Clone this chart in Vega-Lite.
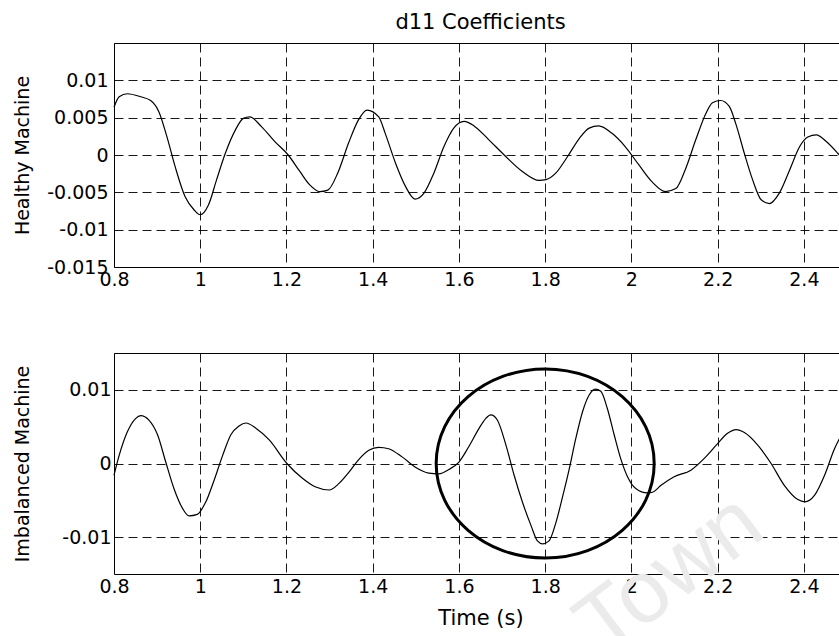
{
  "$schema": "https://vega.github.io/schema/vega-lite/v6.json",
  "padding": {"left": 12, "top": 11, "right": 0, "bottom": 0},
  "spacing": 62,
  "background": "white",
  "datasets": {
    "healthy": [
      {"t":0.8,"v":0.0064},{"t":0.812,"v":0.0078},{"t":0.831,"v":0.0082},{"t":0.862,"v":0.0078},{"t":0.885,"v":0.0073},{"t":0.904,"v":0.0058},{"t":0.923,"v":0.0024},{"t":0.942,"v":-0.0016},{"t":0.965,"v":-0.0056},{"t":0.985,"v":-0.0073},{"t":1.0,"v":-0.008},{"t":1.019,"v":-0.0067},{"t":1.038,"v":-0.0033},{"t":1.058,"v":0.0002},{"t":1.081,"v":0.0033},{"t":1.1,"v":0.0049},{"t":1.115,"v":0.0051},{"t":1.142,"v":0.0038},{"t":1.173,"v":0.0018},{"t":1.204,"v":0.0},{"t":1.231,"v":-0.0022},{"t":1.254,"v":-0.004},{"t":1.277,"v":-0.0049},{"t":1.296,"v":-0.0047},{"t":1.319,"v":-0.0024},{"t":1.344,"v":0.0016},{"t":1.367,"v":0.0047},{"t":1.387,"v":0.006},{"t":1.414,"v":0.0051},{"t":1.429,"v":0.0029},{"t":1.453,"v":-0.0011},{"t":1.476,"v":-0.0042},{"t":1.498,"v":-0.0059},{"t":1.519,"v":-0.0051},{"t":1.542,"v":-0.0024},{"t":1.565,"v":0.0011},{"t":1.588,"v":0.0036},{"t":1.612,"v":0.0045},{"t":1.635,"v":0.0039},{"t":1.67,"v":0.002},{"t":1.705,"v":0.0},{"t":1.747,"v":-0.0022},{"t":1.786,"v":-0.0034},{"t":1.802,"v":-0.0033},{"t":1.825,"v":-0.0024},{"t":1.852,"v":-0.0002},{"t":1.879,"v":0.0022},{"t":1.902,"v":0.0036},{"t":1.924,"v":0.0039},{"t":1.955,"v":0.0029},{"t":1.986,"v":0.0011},{"t":2.017,"v":-0.0013},{"t":2.048,"v":-0.0036},{"t":2.079,"v":-0.0049},{"t":2.103,"v":-0.0045},{"t":2.126,"v":-0.0018},{"t":2.149,"v":0.002},{"t":2.173,"v":0.0056},{"t":2.188,"v":0.007},{"t":2.207,"v":0.0073},{"t":2.227,"v":0.0065},{"t":2.242,"v":0.0042},{"t":2.262,"v":0.0002},{"t":2.281,"v":-0.0033},{"t":2.301,"v":-0.006},{"t":2.32,"v":-0.0065},{"t":2.343,"v":-0.0051},{"t":2.367,"v":-0.002},{"t":2.39,"v":0.0011},{"t":2.409,"v":0.0024},{"t":2.429,"v":0.0027},{"t":2.452,"v":0.0018},{"t":2.479,"v":0.0002},{"t":2.5,"v":-0.0012}
    ],
    "imbalanced": [
      {"t":0.8,"v":-0.0016},{"t":0.812,"v":0.0011},{"t":0.831,"v":0.0043},{"t":0.85,"v":0.0061},{"t":0.862,"v":0.0065},{"t":0.881,"v":0.0059},{"t":0.901,"v":0.0039},{"t":0.92,"v":0.0002},{"t":0.939,"v":-0.0034},{"t":0.959,"v":-0.0061},{"t":0.974,"v":-0.0071},{"t":0.993,"v":-0.0069},{"t":1.013,"v":-0.0052},{"t":1.032,"v":-0.0023},{"t":1.052,"v":0.0011},{"t":1.071,"v":0.0039},{"t":1.09,"v":0.0051},{"t":1.106,"v":0.0055},{"t":1.129,"v":0.0048},{"t":1.16,"v":0.0032},{"t":1.201,"v":0.0},{"t":1.237,"v":-0.002},{"t":1.268,"v":-0.0032},{"t":1.299,"v":-0.0036},{"t":1.322,"v":-0.0027},{"t":1.346,"v":-0.0011},{"t":1.367,"v":0.0005},{"t":1.391,"v":0.0018},{"t":1.414,"v":0.0022},{"t":1.437,"v":0.002},{"t":1.468,"v":0.0009},{"t":1.499,"v":-0.0005},{"t":1.53,"v":-0.0013},{"t":1.553,"v":-0.0014},{"t":1.577,"v":-0.0008},{"t":1.6,"v":0.0002},{"t":1.623,"v":0.0023},{"t":1.647,"v":0.0048},{"t":1.662,"v":0.0061},{"t":1.674,"v":0.0066},{"t":1.689,"v":0.0059},{"t":1.709,"v":0.0025},{"t":1.728,"v":-0.0016},{"t":1.747,"v":-0.0052},{"t":1.767,"v":-0.0084},{"t":1.782,"v":-0.0105},{"t":1.794,"v":-0.0109},{"t":1.809,"v":-0.0105},{"t":1.825,"v":-0.008},{"t":1.84,"v":-0.0046},{"t":1.856,"v":-0.0007},{"t":1.871,"v":0.0034},{"t":1.887,"v":0.0071},{"t":1.902,"v":0.0093},{"t":1.916,"v":0.0101},{"t":1.929,"v":0.0098},{"t":1.944,"v":0.0075},{"t":1.96,"v":0.0039},{"t":1.975,"v":0.0007},{"t":1.991,"v":-0.0018},{"t":2.01,"v":-0.0034},{"t":2.037,"v":-0.004},{"t":2.049,"v":-0.0039},{"t":2.068,"v":-0.003},{"t":2.099,"v":-0.0018},{"t":2.138,"v":-0.0009},{"t":2.169,"v":0.0007},{"t":2.2,"v":0.0027},{"t":2.223,"v":0.0041},{"t":2.243,"v":0.0046},{"t":2.262,"v":0.0042},{"t":2.293,"v":0.0025},{"t":2.324,"v":0.0},{"t":2.355,"v":-0.003},{"t":2.386,"v":-0.0049},{"t":2.402,"v":-0.0052},{"t":2.425,"v":-0.0043},{"t":2.448,"v":-0.0016},{"t":2.471,"v":0.002},{"t":2.491,"v":0.0043},{"t":2.5,"v":0.0052}
    ],
    "highlight": [{"t":1.8,"v":0.0}],
    "watermark": [{"t":2.09,"v":-0.0152,"label":"Town"}]
  },
  "vconcat": [
    {
      "width": 733,
      "height": 224,
      "title": {"text": "d11 Coefficients", "font": "DejaVu Sans", "fontSize": 21, "fontWeight": "normal", "color": "black", "anchor": "middle", "offset": 10},
      "data": {"name": "healthy"},
      "mark": {"type": "line", "color": "black", "strokeWidth": 1.2, "interpolate": "monotone"},
      "encoding": {
        "x": {"field": "t", "type": "quantitative", "scale": {"domain": [0.8, 2.5], "nice": false, "zero": false},
              "axis": {"title": null, "values": [0.8, 1, 1.2, 1.4, 1.6, 1.8, 2, 2.2, 2.4], "labelExpr": "'' + datum.value", "labelPadding": 3}},
        "y": {"field": "v", "type": "quantitative", "scale": {"domain": [-0.015, 0.015], "nice": false, "zero": false},
              "axis": {"title": "Healthy Machine", "values": [-0.015, -0.01, -0.005, 0, 0.005, 0.01], "labelExpr": "'' + datum.value", "labelPadding": 6, "minExtent": 66, "maxExtent": 66, "titlePadding": 16}}
      }
    },
    {
      "width": 733,
      "height": 221,
      "layer": [
        {
          "data": {"name": "watermark"},
          "mark": {"type": "text", "angle": -37, "fontSize": 88, "font": "Liberation Sans", "color": "#ebebeb", "align": "center", "baseline": "middle"},
          "encoding": {
            "x": {"field": "t", "type": "quantitative"},
            "y": {"field": "v", "type": "quantitative"},
            "text": {"field": "label"}
          }
        },
        {
          "data": {"name": "imbalanced"},
          "mark": {"type": "line", "color": "black", "strokeWidth": 1.2, "interpolate": "monotone"},
          "encoding": {
            "x": {"field": "t", "type": "quantitative", "scale": {"domain": [0.8, 2.5], "nice": false, "zero": false},
                  "axis": {"title": "Time (s)", "titleFontSize": 21, "values": [0.8, 1, 1.2, 1.4, 1.6, 1.8, 2, 2.2, 2.4], "labelExpr": "'' + datum.value", "labelPadding": 3, "titlePadding": 11}},
            "y": {"field": "v", "type": "quantitative", "scale": {"domain": [-0.015, 0.015], "nice": false, "zero": false},
                  "axis": {"title": "Imbalanced Machine", "values": [-0.01, 0, 0.01], "labelExpr": "'' + datum.value", "labelPadding": 3, "minExtent": 62, "maxExtent": 62, "titlePadding": 20}}
          }
        },
        {
          "data": {"name": "highlight"},
          "mark": {"type": "point", "shape": "M-1,0A1,0.867,0,1,1,1,0A1,0.867,0,1,1,-1,0Z", "size": 47524, "filled": false, "stroke": "black", "strokeWidth": 3, "opacity": 1},
          "encoding": {
            "x": {"field": "t", "type": "quantitative"},
            "y": {"field": "v", "type": "quantitative"}
          }
        }
      ]
    }
  ],
  "config": {
    "view": {"stroke": "black", "strokeWidth": 1},
    "axis": {
      "labelFont": "DejaVu Sans", "labelFontSize": 19, "labelColor": "black", "labelFlush": false, "labelOverlap": false,
      "titleFont": "DejaVu Sans", "titleFontSize": 19, "titleFontWeight": "normal", "titleColor": "black",
      "grid": true, "gridColor": "black", "gridDash": [9, 5], "gridOpacity": 0.9, "gridWidth": 1,
      "ticks": false, "domain": false
    }
  }
}
